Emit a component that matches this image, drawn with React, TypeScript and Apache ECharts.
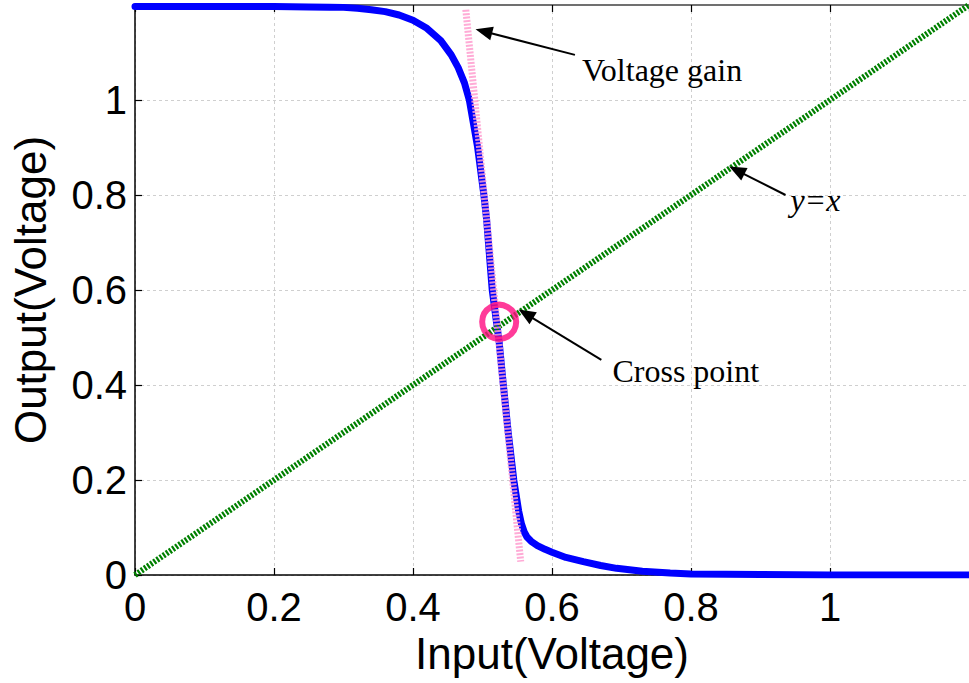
import React, { useEffect, useRef } from "react";
import * as echarts from "echarts";

// Inverter transfer curve: output voltage vs input voltage
const inputVoltage = [
  0, 0.1, 0.2, 0.25, 0.28, 0.3, 0.32, 0.34, 0.36, 0.38, 0.4, 0.42, 0.44, 0.455, 0.465, 0.474, 0.481,
  0.487, 0.493, 0.502, 0.506, 0.514, 0.524, 0.53, 0.537, 0.545, 0.552, 0.556, 0.56, 0.564,
  0.57, 0.579, 0.59, 0.6, 0.62, 0.645, 0.67, 0.693, 0.73, 0.77, 0.8, 0.9, 1.0, 1.1, 1.2,
];
const outputVoltage = [
  1.197, 1.197, 1.197, 1.196, 1.1955, 1.195, 1.193, 1.19, 1.186, 1.179, 1.168, 1.151, 1.125, 1.095, 1.068, 1.036, 1.0,
  0.95, 0.9, 0.8, 0.747, 0.6, 0.49, 0.4, 0.3, 0.2, 0.135, 0.108, 0.091, 0.08,
  0.071, 0.062, 0.054, 0.048, 0.037, 0.028, 0.02, 0.014, 0.008, 0.004, 0.002, 0.001, 0, 0, 0,
];

// Tangent at the steepest point (voltage gain) and the y = x reference line
const gainLine = [
  [0.476, 1.19],
  [0.555, 0.028],
];
const identityLine = [
  [0, 0],
  [1.2, 1.2],
];
const crossPoint = [[0.524, 0.533]];

// Annotation arrows: [tailX, tailY, tipX, tipY]
const arrows = [
  [0.633, 1.095, 0.49, 1.149],
  [0.936, 0.8, 0.855, 0.86],
  [0.671, 0.453, 0.552, 0.559],
];
// Annotation labels: left-middle anchor in data units
const noteTexts = ["Voltage gain", "y=x", "Cross point"];
const notePos = [
  [0.643, 1.063],
  [0.943, 0.789],
  [0.687, 0.429],
];

const tickFont = "Liberation Sans, Arial, sans-serif";
const noteFont = "Liberation Serif, Times New Roman, serif";

export default function App() {
  const ref = useRef<HTMLDivElement>(null);

  useEffect(() => {
    if (!ref.current) return;
    const chart = echarts.init(ref.current, undefined, { renderer: "svg" });

    const curve = inputVoltage.map((x, i) => [x, outputVoltage[i]]);

    const axisCommon = {
      type: "value" as const,
      min: 0,
      max: 1.2,
      interval: 0.2,
    };

    chart.setOption({
      animation: false,
      backgroundColor: "#ffffff",
      grid: { left: 135, top: 5, width: 840, height: 570, containLabel: false },
      xAxis: [
        {
          ...axisCommon,
          position: "bottom",
          name: "Input(Voltage)",
          nameLocation: "middle",
          nameGap: 56,
          nameTextStyle: { fontFamily: tickFont, fontSize: 44, color: "#000" },
          axisLine: { show: true, onZero: false, lineStyle: { color: "#000", width: 1.5 } },
          axisTick: { show: true, inside: true, length: 7, lineStyle: { color: "#000", width: 1.2 } },
          axisLabel: {
            showMaxLabel: false,
            fontFamily: tickFont,
            fontSize: 40,
            color: "#000",
            margin: 12,
          },
          splitLine: { show: true, lineStyle: { color: "#cfcfcf", type: [3, 3], width: 1 } },
        },
        {
          ...axisCommon,
          position: "top",
          axisLine: { show: true, onZero: false, lineStyle: { color: "#707070", width: 2 } },
          axisTick: { show: true, inside: true, length: 7, lineStyle: { color: "#000", width: 1.2 } },
          axisLabel: { show: false },
          splitLine: { show: false },
        },
      ],
      yAxis: [
        {
          ...axisCommon,
          position: "left",
          name: "Output(Voltage)",
          nameLocation: "middle",
          nameGap: 83,
          nameTextStyle: { fontFamily: tickFont, fontSize: 44, color: "#000" },
          axisLine: { show: true, onZero: false, lineStyle: { color: "#000", width: 1.5 } },
          axisTick: { show: true, inside: true, length: 7, lineStyle: { color: "#000", width: 1.2 } },
          axisLabel: {
            showMaxLabel: false,
            fontFamily: tickFont,
            fontSize: 40,
            color: "#000",
            margin: 8,
          },
          splitLine: { show: true, lineStyle: { color: "#cfcfcf", type: [3, 3], width: 1 } },
        },
      ],
      series: [
        {
          type: "line",
          data: curve,
          showSymbol: false,
          smooth: false,
          lineStyle: { color: "#0000ff", width: 7, join: "round", cap: "round" },
          z: 3,
        },
        {
          type: "line",
          data: identityLine,
          showSymbol: false,
          lineStyle: { color: "#008000", width: 6, type: [2.2, 1.6] },
          z: 4,
        },
        {
          type: "line",
          data: gainLine,
          showSymbol: false,
          lineStyle: { color: "#ff9ccf", width: 7, type: [2, 1.5], opacity: 0.85 },
          z: 5,
        },
        {
          type: "scatter",
          data: crossPoint,
          symbol: "circle",
          symbolSize: 34,
          itemStyle: { color: "rgba(0,0,0,0)", borderColor: "#ff0a7f", borderWidth: 6 },
          z: 6,
        },
        {
          type: "custom",
          coordinateSystem: "cartesian2d",
          data: arrows,
          clip: false,
          z: 7,
          renderItem: (params: any, api: any) => {
            const p0 = api.coord([api.value(0), api.value(1)]);
            const p1 = api.coord([api.value(2), api.value(3)]);
            const dx = p1[0] - p0[0];
            const dy = p1[1] - p0[1];
            const len = Math.sqrt(dx * dx + dy * dy);
            const ux = dx / len;
            const uy = dy / len;
            const headLen = 17;
            const headHalf = 7;
            const bx = p1[0] - ux * headLen;
            const by = p1[1] - uy * headLen;
            return {
              type: "group",
              children: [
                {
                  type: "line",
                  shape: { x1: p0[0], y1: p0[1], x2: bx + ux * 2, y2: by + uy * 2 },
                  style: { stroke: "#000", lineWidth: 2 },
                },
                {
                  type: "polygon",
                  shape: {
                    points: [
                      [p1[0], p1[1]],
                      [bx - uy * headHalf, by + ux * headHalf],
                      [bx + uy * headHalf, by - ux * headHalf],
                    ],
                  },
                  style: { fill: "#000" },
                },
              ],
            };
          },
        },
        {
          type: "custom",
          coordinateSystem: "cartesian2d",
          data: notePos,
          clip: false,
          z: 8,
          renderItem: (params: any, api: any) => {
            const p = api.coord([api.value(0), api.value(1)]);
            const label = noteTexts[params.dataIndex];
            return {
              type: "text",
              x: p[0],
              y: p[1],
              style: {
                text: label,
                fontFamily: noteFont,
                fontSize: 32,
                fontStyle: label === "y=x" ? "italic" : "normal",
                fill: "#000",
                align: "left",
                verticalAlign: "middle",
              },
            };
          },
        },
      ],
    });

    return () => chart.dispose();
  }, []);

  return (
    <div
      ref={ref}
      style={{ position: "fixed", left: 0, top: 0, width: 969, height: 683, background: "#fff" }}
    />
  );
}
